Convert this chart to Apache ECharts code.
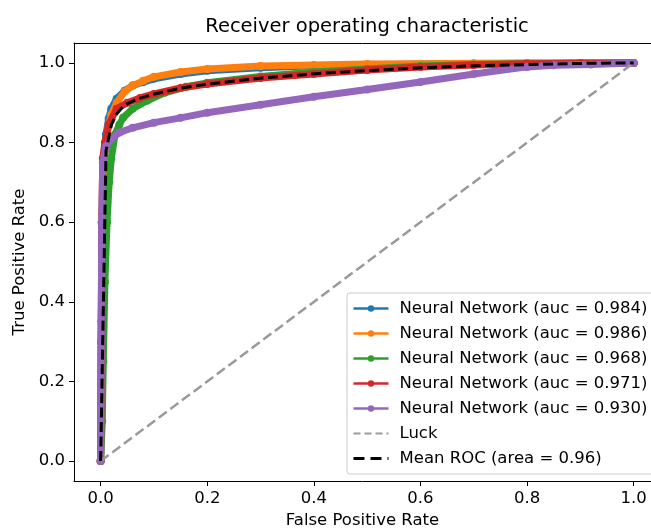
<!DOCTYPE html>
<html>
<head>
<meta charset="utf-8">
<script src="https://cdn.jsdelivr.net/npm/echarts@6/dist/echarts.min.js"></script>
<style>
html,body{margin:0;padding:0;background:#fff;}
#chart{width:651px;height:529px;}
</style>
</head>
<body>
<div id="chart"></div>
<script>
const tickValues = [0, 0.2, 0.4, 0.6, 0.8, 1.0];

const seriesNames = [
  'Neural Network (auc = 0.984)',
  'Neural Network (auc = 0.986)',
  'Neural Network (auc = 0.968)',
  'Neural Network (auc = 0.971)',
  'Neural Network (auc = 0.930)'
];
const luckName = 'Luck';
const meanName = 'Mean ROC (area = 0.96)';

const fpr1 = [0, 0.001, 0.003, 0.006, 0.01, 0.015, 0.02, 0.03, 0.045, 0.06, 0.08, 0.1, 0.15, 0.2, 0.3, 0.4, 0.5, 0.6, 0.7, 0.8, 0.9, 1];
const tpr1 = [0, 0.3, 0.6, 0.75, 0.82, 0.86, 0.885, 0.91, 0.93, 0.943, 0.952, 0.96, 0.972, 0.98, 0.988, 0.993, 0.995, 0.997, 0.998, 0.999, 1, 1];

const fpr2 = [0, 0.001, 0.003, 0.006, 0.01, 0.015, 0.02, 0.03, 0.045, 0.06, 0.08, 0.1, 0.15, 0.2, 0.3, 0.4, 0.5, 0.6, 0.7, 0.8, 0.9, 1];
const tpr2 = [0, 0.35, 0.62, 0.74, 0.8, 0.845, 0.87, 0.9, 0.928, 0.943, 0.955, 0.965, 0.977, 0.985, 0.992, 0.995, 0.997, 0.998, 0.999, 1, 1, 1];

const fpr3 = [0, 0.003, 0.005, 0.008, 0.012, 0.016, 0.02, 0.027, 0.035, 0.042, 0.06, 0.087, 0.12, 0.16, 0.2, 0.3, 0.4, 0.5, 0.6, 0.7, 0.8, 0.9, 1];
const tpr3 = [0, 0.1, 0.25, 0.45, 0.6, 0.7, 0.76, 0.82, 0.845, 0.862, 0.885, 0.905, 0.925, 0.94, 0.95, 0.966, 0.977, 0.985, 0.992, 0.996, 0.998, 0.999, 1];

const fpr4 = [0, 0.001, 0.002, 0.004, 0.008, 0.015, 0.03, 0.05, 0.074, 0.1, 0.15, 0.2, 0.3, 0.4, 0.5, 0.6, 0.7, 0.8, 0.9, 1];
const tpr4 = [0, 0.3, 0.6, 0.76, 0.8, 0.845, 0.885, 0.9, 0.912, 0.922, 0.937, 0.947, 0.962, 0.972, 0.982, 0.99, 0.995, 0.998, 0.999, 1];

const fpr5 = [0, 0.001, 0.002, 0.004, 0.01, 0.02, 0.035, 0.06, 0.1, 0.15, 0.2, 0.3, 0.4, 0.5, 0.6, 0.7, 0.8, 0.85, 0.92, 1];
const tpr5 = [0, 0.3, 0.6, 0.75, 0.79, 0.81, 0.825, 0.837, 0.85, 0.862, 0.875, 0.895, 0.915, 0.933, 0.952, 0.972, 0.99, 0.994, 0.996, 1];

const luckFpr = [0, 1];
const luckTpr = [0, 1];

const meanFpr = [0, 0.0101, 0.0202, 0.0303, 0.0404, 0.0505, 0.0707, 0.101, 0.152, 0.202, 0.303, 0.404, 0.505, 0.606, 0.707, 0.808, 0.909, 1];
const meanTpr = [0, 0.78, 0.845, 0.872, 0.888, 0.898, 0.91, 0.922, 0.937, 0.947, 0.962, 0.973, 0.981, 0.988, 0.993, 0.996, 0.999, 1];

const colors = ['#1f77b4', '#ff7f0e', '#2ca02c', '#d62728', '#9467bd'];
const rocFpr = [fpr1, fpr2, fpr3, fpr4, fpr5];
const rocTpr = [tpr1, tpr2, tpr3, tpr4, tpr5];

function pairs(xs, ys) { return xs.map((x, i) => [x, ys[i]]); }

const FONT = 'DejaVu Sans';

const series = rocFpr.map((xs, k) => ({
  name: seriesNames[k],
  type: 'line',
  data: pairs(xs, rocTpr[k]),
  color: colors[k],
  symbol: 'circle',
  symbolSize: 8,
  showSymbol: true,
  lineStyle: { width: 7, color: colors[k] },
  itemStyle: { color: colors[k] },
  z: 2 + k
}));
series.push({
  name: luckName,
  type: 'line',
  data: pairs(luckFpr, luckTpr),
  color: '#9a9a9a',
  symbol: 'none',
  lineStyle: { width: 2.5, type: [10, 4.5], color: '#9a9a9a' },
  z: 8
});
series.push({
  name: meanName,
  type: 'line',
  data: pairs(meanFpr, meanTpr),
  color: '#000',
  symbol: 'none',
  lineStyle: { width: 3, type: [10, 4.5], color: '#000' },
  z: 9
});

const legendData = seriesNames.map(n => ({ name: n, lineStyle: { width: 2.5 } }));
legendData.push({ name: luckName, lineStyle: { width: 2, type: [7, 4] }, itemStyle: { opacity: 0 } });
legendData.push({ name: meanName, lineStyle: { width: 3, type: [11, 6] }, itemStyle: { opacity: 0 } });

const chart = echarts.init(document.getElementById('chart'), null, { renderer: 'canvas' });
chart.setOption({
  animation: false,
  backgroundColor: '#fff',
  title: {
    text: 'Receiver operating characteristic',
    left: 362,
    top: 12,
    textAlign: 'center',
    textStyle: { fontFamily: FONT, fontSize: 19.5, fontWeight: 'normal', color: '#000' }
  },
  grid: {
    left: 74, top: 43, right: 0, bottom: 48,
    outerBoundsMode: 'none',
    containLabel: false,
    show: false
  },
  legend: {
    orient: 'vertical',
    left: 347,
    top: 293,
    padding: [6, 14, 6, 5],
    itemWidth: 35,
    itemHeight: 8,
    itemGap: 6,
    backgroundColor: 'rgba(255,255,255,0.85)',
    borderColor: '#cccccc',
    borderWidth: 1,
    borderRadius: 3,
    data: legendData,
    textStyle: { fontFamily: FONT, fontSize: 16.5, color: '#000', lineHeight: 19, padding: [0, 0, 0, 6] }
  },
  xAxis: [{
    type: 'value',
    min: -0.05,
    max: 1.0325,
    name: 'False Positive Rate',
    nameLocation: 'middle',
    nameGap: 31,
    nameTextStyle: { fontFamily: FONT, fontSize: 16.5, color: '#000' },
    axisLine: { show: true, onZero: false, lineStyle: { color: '#000', width: 1 } },
    axisTick: { show: true, length: 5, customValues: tickValues, lineStyle: { color: '#000' } },
    axisLabel: { customValues: tickValues, margin: 9, fontFamily: FONT, fontSize: 16.5, color: '#000', formatter: v => v.toFixed(1) },
    splitLine: { show: false }
  }, {
    type: 'value',
    position: 'top',
    min: -0.05,
    max: 1.0325,
    axisLine: { show: true, onZero: false, lineStyle: { color: '#000', width: 1 } },
    axisTick: { show: false },
    axisLabel: { show: false },
    splitLine: { show: false }
  }],
  yAxis: {
    type: 'value',
    min: -0.05,
    max: 1.05,
    name: 'True Positive Rate',
    nameLocation: 'middle',
    nameGap: 45,
    nameTextStyle: { fontFamily: FONT, fontSize: 16.5, color: '#000' },
    axisLine: { show: true, onZero: false, lineStyle: { color: '#000', width: 1 } },
    axisTick: { show: true, length: 5, customValues: tickValues, lineStyle: { color: '#000' } },
    axisLabel: { customValues: tickValues, margin: 9, fontFamily: FONT, fontSize: 16.5, color: '#000', formatter: v => v.toFixed(1) },
    splitLine: { show: false }
  },
  series: series
});
</script>
</body>
</html>
